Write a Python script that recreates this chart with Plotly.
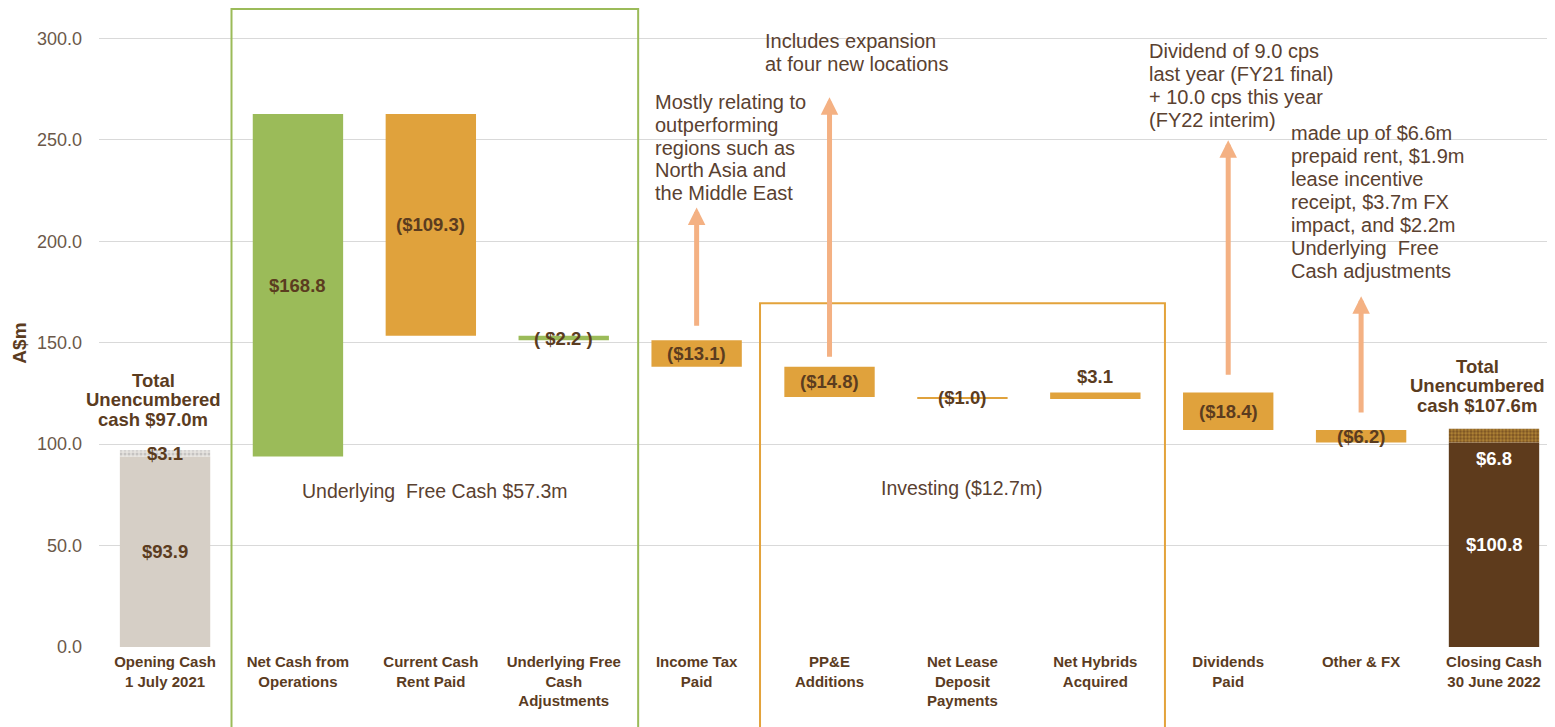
import plotly.graph_objects as go

# ---------------- data ----------------
categories = [
    "Opening Cash<br>1 July 2021",
    "Net Cash from<br>Operations",
    "Current Cash<br>Rent Paid",
    "Underlying Free<br>Cash<br>Adjustments",
    "Income Tax<br>Paid",
    "PP&E<br>Additions",
    "Net Lease<br>Deposit<br>Payments",
    "Net Hybrids<br>Acquired",
    "Dividends<br>Paid",
    "Other & FX",
    "Closing Cash<br>30 June 2022",
]
opening_unrestricted = 93.9
opening_restricted = 3.1
closing_unrestricted = 100.8
closing_restricted = 6.8
changes = [168.8, -109.3, -2.2, -13.1, -14.8, -1.0, 3.1, -18.4, -6.2]
change_labels = ["$168.8", "($109.3)", "( $2.2 )", "($13.1)", "($14.8)",
                 "($1.0)", "$3.1", "($18.4)", "($6.2)"]
change_colors = ["green", "orange", "green", "orange", "orange",
                 "orange", "orange", "orange", "orange"]
y_ticks = [0, 50, 100, 150, 200, 250, 300]

note_mostly = ["Mostly relating to", "outperforming", "regions such as",
               "North Asia and", "the Middle East"]
note_includes = ["Includes expansion", "at four new locations"]
note_dividend = ["Dividend of 9.0 cps", "last year (FY21 final)",
                 "+ 10.0 cps this year", "(FY22 interim)"]
note_other = ["made up of $6.6m", "prepaid rent, $1.9m", "lease incentive",
              "receipt, $3.7m FX", "impact, and $2.2m", "Underlying  Free",
              "Cash adjustments"]

# ---------------- styling ----------------
GREY = "#d6cfc6"
GREEN = "#9bbb59"
ORANGE = "#e0a23c"
BROWN = "#5e3b1c"
TXT = "#5b3c1f"
NOTE = "#5a4130"
ARROW = "#f4b183"
FONT = "Liberation Sans, Arial, sans-serif"
NARROW = "Liberation Sans Narrow, Arial Narrow, Liberation Sans, sans-serif"
BW = 0.68
Y_MAX = 315

# cumulative bases
bases, tops = [], []
level = opening_unrestricted
for c in changes:
    nxt = level + c
    bases.append(min(level, nxt))
    tops.append(max(level, nxt))
    level = nxt

fig = go.Figure()

# opening stack
fig.add_trace(go.Bar(x=[0], y=[opening_unrestricted], base=[0], width=BW,
                     marker=dict(color=GREY, line=dict(width=0)), hoverinfo="skip"))
fig.add_trace(go.Bar(x=[0], y=[opening_restricted], base=[opening_unrestricted], width=BW,
                     marker=dict(color="#e4e0db", line=dict(width=0),
                                 pattern=dict(shape=".", fgcolor="#a3a3a3", bgcolor="#e6e3df",
                                              size=4, solidity=0.45)),
                     hoverinfo="skip"))
# changes
cmap = {"green": GREEN, "orange": ORANGE}
for i, c in enumerate(changes):
    fig.add_trace(go.Bar(x=[i + 1], y=[abs(c)], base=[bases[i]], width=BW,
                         marker=dict(color=cmap[change_colors[i]], line=dict(width=0)),
                         hoverinfo="skip"))
# closing stack
fig.add_trace(go.Bar(x=[10], y=[closing_unrestricted], base=[0], width=BW,
                     marker=dict(color=BROWN, line=dict(width=0)), hoverinfo="skip"))
fig.add_trace(go.Bar(x=[10], y=[closing_restricted], base=[closing_unrestricted], width=BW,
                     marker=dict(color="#8a6022", line=dict(width=0),
                                 pattern=dict(shape=".", fgcolor="#e0b048", bgcolor="#7a5222",
                                              size=3.5, solidity=0.55)),
                     hoverinfo="skip"))

ann = []
LBL = dict(size=18.5, color=TXT, family=FONT)
# bar value labels
for i, c in enumerate(changes):
    if i == 6:
        ann.append(dict(x=i + 1, y=tops[i], text="<b>%s</b>" % change_labels[i], showarrow=False,
                        yanchor="bottom", yshift=4, font=LBL))
    else:
        ann.append(dict(x=i + 1, y=(bases[i] + tops[i]) / 2, text="<b>%s</b>" % change_labels[i],
                        showarrow=False, font=LBL))
ann.append(dict(x=0, y=opening_unrestricted / 2, text="<b>$%.1f</b>" % opening_unrestricted,
                showarrow=False, font=LBL))
ann.append(dict(x=0, y=opening_unrestricted + opening_restricted / 2,
                text="<b>$%.1f</b>" % opening_restricted, showarrow=False, font=LBL))
ann.append(dict(x=10, y=closing_unrestricted / 2, text="<b>$%.1f</b>" % closing_unrestricted,
                showarrow=False, font=dict(size=18.5, color="white", family=FONT)))
ann.append(dict(x=10, y=closing_unrestricted, text="<b>$%.1f</b>" % closing_restricted,
                showarrow=False, yanchor="top", yshift=-3,
                font=dict(size=18.5, color="white", family=FONT)))

# Total unencumbered texts (one line each for tight spacing)
open_total = opening_unrestricted + opening_restricted
close_total = closing_unrestricted + closing_restricted
for txt, yv in [("Total", 131.5), ("Unencumbered", 121.8), ("cash $%.1fm" % open_total, 112.2)]:
    ann.append(dict(x=-0.09, y=yv, text="<b>%s</b>" % txt, showarrow=False, font=LBL))
for txt, yv in [("Total", 138.4), ("Unencumbered", 128.8), ("cash $%.1fm" % close_total, 119.2)]:
    ann.append(dict(x=9.875, y=yv, text="<b>%s</b>" % txt, showarrow=False, font=LBL))

# group labels
ann.append(dict(x=2.03, y=76.8, text="Underlying  Free Cash $57.3m", showarrow=False,
                font=dict(size=19.5, color=NOTE, family=FONT)))
ann.append(dict(x=6.0, y=78.3, text="Investing ($12.7m)", showarrow=False,
                font=dict(size=19.5, color=NOTE, family=FONT)))

# notes (one annotation per line; x left edge, first-line y, line step)
for lines, xv, y0, step in [(note_mostly, 3.672, 268.6, 11.2),
                            (note_includes, 4.50, 298.5, 10.9),
                            (note_dividend, 7.389, 293.7, 11.3),
                            (note_other, 8.457, 253.3, 11.35)]:
    for k, line in enumerate(lines):
        ann.append(dict(x=xv, y=y0 - k * step, text=line, showarrow=False, xanchor="left",
                        yanchor="middle", font=dict(size=20, color=NOTE, family=FONT)))

# arrows (x, head y, tail y)
arrows = [(4, 216.7, 157.6), (5, 271.0, 142.4), (8, 249.8, 133.5), (9, 172.9, 114.8)]
for xv, yh, yt in arrows:
    ann.append(dict(x=xv, y=yh, ax=xv, ay=yt, axref="x", ayref="y", text="", showarrow=True,
                    arrowhead=2, arrowsize=0.7, arrowwidth=5, arrowcolor=ARROW, standoff=0))

# y-axis title
ann.append(dict(xref="paper", x=-0.0543, xanchor="center", y=150, text="<b>A$m</b>",
                showarrow=False, textangle=-90, font=dict(size=19, color=TXT, family=FONT)))

shapes = [
    dict(type="rect", xref="x", yref="paper", x0=0.5, x1=3.56, y0=-0.3, y1=0.9985,
         line=dict(color=GREEN, width=2), fillcolor="rgba(0,0,0,0)"),
    dict(type="rect", xref="x", yref="paper", x0=4.477, x1=7.524, y0=-0.3, y1=169.5 / Y_MAX,
         line=dict(color="#e3a33b", width=2), fillcolor="rgba(0,0,0,0)"),
]

fig.update_layout(
    width=1547, height=719,
    margin=dict(l=91, r=0, t=0, b=80),
    paper_bgcolor="white", plot_bgcolor="white",
    barmode="overlay", showlegend=False,
    annotations=ann, shapes=shapes,
    font=dict(family=FONT, color=TXT),
    xaxis=dict(range=[-0.497, 10.459], tickmode="array", tickvals=list(range(len(categories))),
               ticktext=["<b>%s</b>" % c for c in categories], showgrid=False, zeroline=False,
               showline=False, ticks="", ticklabelstandoff=4,
               tickfont=dict(family=NARROW, size=15, color=TXT)),
    yaxis=dict(range=[0, Y_MAX], tickmode="array", tickvals=y_ticks,
               ticktext=["%.1f" % v for v in y_ticks], showgrid=True, gridcolor="#d9d9d9",
               gridwidth=1.3, zeroline=False, showline=False, ticks="", ticklabelstandoff=16,
               tickfont=dict(size=18, color="#6b5849", family=FONT)),
)

fig.write_html("out.html")
